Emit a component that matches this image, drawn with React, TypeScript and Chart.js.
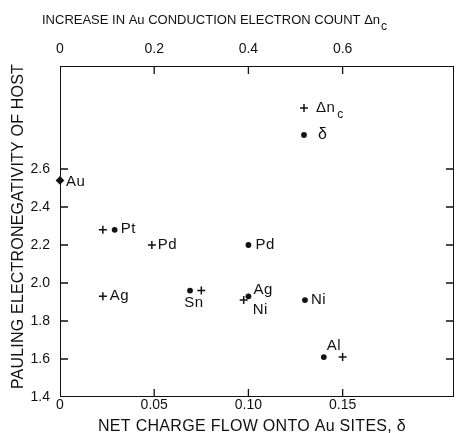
import React, { useEffect, useRef } from 'react';
import { Chart, registerables } from 'chart.js';

Chart.register(...registerables);

// ---- data ----
const hosts = ['Au', 'Pt', 'Pd', 'Ag', 'Sn', 'Ni', 'Al'];
const electronegativity = [2.54, 2.28, 2.2, 1.93, 1.96, 1.91, 1.61];
const chargeFlow = [0, 0.029, 0.1, 0.1, 0.069, 0.13, 0.14]; // δ
const conductionCount = [0, 0.091, 0.195, 0.091, 0.3, 0.39, 0.6]; // Δn_c

const xTicks = [0, 0.05, 0.1, 0.15];
const xTickLabels = ['0', '0.05', '0.10', '0.15'];
const x2Ticks = [0, 0.2, 0.4, 0.6];
const x2TickLabels = ['0', '0.2', '0.4', '0.6'];
const yTicks = [1.4, 1.6, 1.8, 2.0, 2.2, 2.4, 2.6];
const yTickLabels = ['1.4', '1.6', '1.8', '2.0', '2.2', '2.4', '2.6'];

const xMax = 0.2091;
const x2Max = 0.8365;
const yMin = 1.4;
const yMax = 3.142;

// labelled hosts for each marker series
const dotLabelHosts = ['Pt', 'Pd', 'Ag', 'Sn', 'Ni', 'Al'];
const plusLabelHosts = ['Pd', 'Ag', 'Ni'];

// ---- styles ----
const INK = '#111111';
const FONT = '"Liberation Sans", Arial, sans-serif';
const dotLabelStyle: Record<string, [number, number, CanvasTextAlign]> = {
  Pt: [6, -1, 'left'],
  Pd: [7, 0, 'left'],
  Ag: [5, -6, 'left'],
  Sn: [4, 12, 'center'],
  Ni: [6, 0, 'left'],
  Al: [10, -11, 'center'],
};
const plusLabelStyle: Record<string, [number, number, CanvasTextAlign]> = {
  Pd: [6, 0, 'left'],
  Ag: [7, 0, 'left'],
  Ni: [9, 10, 'left'],
};

const overlay = {
  id: 'overlay',
  afterDraw(chart: any) {
    const ctx: CanvasRenderingContext2D = chart.ctx;
    const a = chart.chartArea;
    const sx = chart.scales.x;
    const sx2 = chart.scales.x2;
    const sy = chart.scales.y;
    ctx.save();
    ctx.strokeStyle = INK;
    ctx.fillStyle = INK;
    // frame
    ctx.lineWidth = 1;
    ctx.strokeRect(a.left + 0.5, a.top + 0.5, a.right - a.left - 1, a.bottom - a.top - 1);
    // inward ticks
    const TL = 8;
    ctx.lineWidth = 1.3;
    ctx.beginPath();
    xTicks.slice(1).forEach((v) => {
      const p = sx.getPixelForValue(v);
      ctx.moveTo(p, a.bottom);
      ctx.lineTo(p, a.bottom - TL);
    });
    x2Ticks.slice(1).forEach((v) => {
      const p = sx2.getPixelForValue(v);
      ctx.moveTo(p, a.top);
      ctx.lineTo(p, a.top + TL);
    });
    yTicks.slice(1).forEach((v) => {
      const p = sy.getPixelForValue(v);
      ctx.moveTo(a.left, p);
      ctx.lineTo(a.left + TL, p);
      ctx.moveTo(a.right, p);
      ctx.lineTo(a.right - TL, p);
    });
    ctx.stroke();

    // axis titles
    ctx.textBaseline = 'middle';
    ctx.textAlign = 'left';
    ctx.font = `13px ${FONT}`;
    (ctx as any).letterSpacing = '0px';
    const topTitle = 'INCREASE IN Au CONDUCTION ELECTRON COUNT \u0394n';
    const tx = a.left - 18;
    ctx.fillText(topTitle, tx, 20);
    const tw = ctx.measureText(topTitle).width;
    ctx.font = `12px ${FONT}`;
    ctx.fillText('c', tx + tw + 1, 27);

    ctx.font = `16px ${FONT}`;
    (ctx as any).letterSpacing = '0.3px';
    ctx.fillText('NET CHARGE FLOW ONTO Au SITES, \u03b4', a.left + 38, 427);

    ctx.save();
    (ctx as any).letterSpacing = '0.2px';
    ctx.translate(19, 226.5);
    ctx.rotate(-Math.PI / 2);
    ctx.textAlign = 'center';
    ctx.fillText('PAULING ELECTRONEGATIVITY OF HOST', 0, 0);
    ctx.restore();

    // host labels
    ctx.font = `15px ${FONT}`;
    (ctx as any).letterSpacing = '0.5px';
    const drawLabels = (dsIndex: number, names: string[], style: Record<string, [number, number, CanvasTextAlign]>, offset: number) => {
      const meta = chart.getDatasetMeta(dsIndex);
      names.forEach((n) => {
        const i = hosts.indexOf(n) - offset;
        const el = meta.data[i];
        if (!el) return;
        const [dx, dy, al] = style[n];
        ctx.textAlign = al;
        ctx.fillText(n, el.x + dx, el.y + dy);
      });
    };
    drawLabels(1, dotLabelHosts, dotLabelStyle, 1);
    drawLabels(2, plusLabelHosts, plusLabelStyle, 1);
    const au = chart.getDatasetMeta(0).data[0];
    if (au) {
      ctx.textAlign = 'left';
      ctx.fillText(hosts[0], au.x + 6, au.y + 1);
    }

    // legend
    const lx = a.left + 244;
    const ly1 = a.top + 42;
    const ly2 = a.top + 69;
    ctx.lineWidth = 1.5;
    ctx.beginPath();
    ctx.moveTo(lx - 4, ly1);
    ctx.lineTo(lx + 4, ly1);
    ctx.moveTo(lx, ly1 - 4);
    ctx.lineTo(lx, ly1 + 4);
    ctx.stroke();
    ctx.beginPath();
    ctx.arc(lx, ly2, 2.9, 0, Math.PI * 2);
    ctx.fill();
    ctx.textAlign = 'left';
    ctx.font = `15px ${FONT}`;
    ctx.fillText('\u0394n', lx + 12, ly1);
    const dw = ctx.measureText('\u0394n').width;
    ctx.font = `12px ${FONT}`;
    ctx.fillText('c', lx + 14 + dw, ly1 + 7);
    ctx.font = `16px ${FONT}`;
    ctx.fillText('\u03b4', lx + 14, ly2);
    ctx.restore();
  },
};

export default function App() {
  const ref = useRef<HTMLCanvasElement>(null);
  useEffect(() => {
    const tickFont = { family: FONT, size: 14 };
    const chart = new Chart(ref.current!, {
      type: 'scatter',
      data: {
        datasets: [
          {
            label: 'Au',
            data: [{ x: chargeFlow[0], y: electronegativity[0] }],
            xAxisID: 'x',
            yAxisID: 'y',
            pointStyle: 'rectRot',
            pointRadius: 4.4,
            backgroundColor: INK,
            borderColor: INK,
            borderWidth: 0,
            clip: false,
          },
          {
            label: '\u03b4',
            data: hosts.slice(1).map((_, i) => ({ x: chargeFlow[i + 1], y: electronegativity[i + 1] })),
            xAxisID: 'x',
            yAxisID: 'y',
            pointStyle: 'circle',
            pointRadius: 2.9,
            backgroundColor: INK,
            borderColor: INK,
            borderWidth: 0,
            clip: false,
          },
          {
            label: '\u0394n_c',
            data: hosts.slice(1).map((_, i) => ({ x: conductionCount[i + 1], y: electronegativity[i + 1] })),
            xAxisID: 'x2',
            yAxisID: 'y',
            pointStyle: 'cross',
            pointRadius: 4,
            backgroundColor: INK,
            borderColor: INK,
            borderWidth: 1.5,
            clip: false,
          },
        ],
      } as any,
      options: {
        responsive: false,
        animation: false,
        devicePixelRatio: 1,
        layout: { padding: { left: 0, right: 7, top: 0, bottom: 0 } },
        plugins: { legend: { display: false }, tooltip: { enabled: false } },
        scales: {
          x: {
            type: 'linear',
            position: 'bottom',
            min: 0,
            max: xMax,
            grid: { display: false, drawTicks: false },
            border: { display: false },
            afterBuildTicks: (s: any) => {
              s.ticks = xTicks.map((v) => ({ value: v }));
            },
            afterFit: (s: any) => {
              s.height = 36;
            },
            ticks: {
              padding: 0,
              maxRotation: 0,
              autoSkip: false,
              color: INK,
              font: tickFont,
              callback: (_v: any, i: number) => xTickLabels[i],
            },
          },
          x2: {
            type: 'linear',
            position: 'top',
            min: 0,
            max: x2Max,
            grid: { display: false, drawTicks: false },
            border: { display: false },
            afterBuildTicks: (s: any) => {
              s.ticks = x2Ticks.map((v) => ({ value: v }));
            },
            afterFit: (s: any) => {
              s.height = 66;
            },
            ticks: {
              padding: 8,
              maxRotation: 0,
              autoSkip: false,
              color: INK,
              font: tickFont,
              callback: (_v: any, i: number) => x2TickLabels[i],
            },
          },
          y: {
            type: 'linear',
            position: 'left',
            min: yMin,
            max: yMax,
            grid: { display: false, drawTicks: false },
            border: { display: false },
            afterBuildTicks: (s: any) => {
              s.ticks = yTicks.map((v) => ({ value: v }));
            },
            afterFit: (s: any) => {
              s.width = 60;
            },
            ticks: {
              padding: 10,
              autoSkip: false,
              color: INK,
              font: tickFont,
              callback: (_v: any, i: number) => yTickLabels[i],
            },
          },
        },
      } as any,
      plugins: [overlay],
    });
    return () => chart.destroy();
  }, []);
  return (
    <div style={{ position: 'absolute', left: 0, top: 0, width: 461, height: 433, background: '#fff' }}>
      <canvas ref={ref} width={461} height={433} style={{ display: 'block', width: 461, height: 433 }} />
    </div>
  );
}
